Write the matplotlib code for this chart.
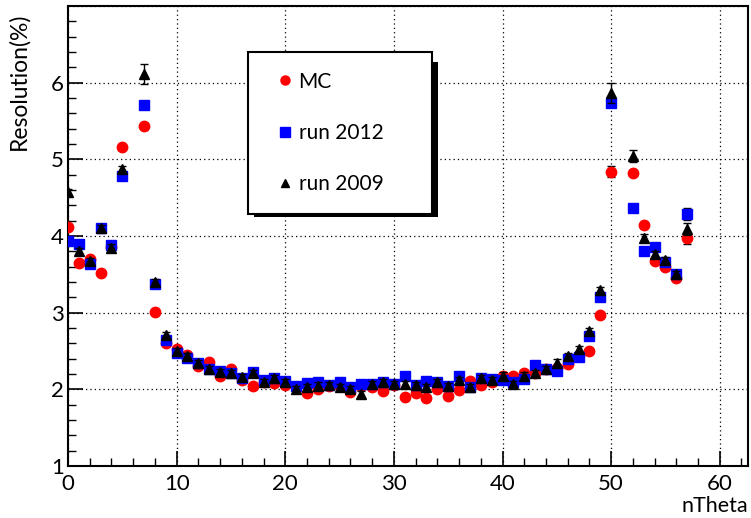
import numpy as np
import matplotlib
matplotlib.use('Agg')
import matplotlib.pyplot as plt
import matplotlib as mpl
from matplotlib.patches import Rectangle
from matplotlib.lines import Line2D
from matplotlib.ticker import MultipleLocator, FuncFormatter

mpl.rcParams['font.family'] = 'Lato'
mpl.rcParams['font.size'] = 16
mpl.rcParams['xtick.direction'] = 'in'
mpl.rcParams['ytick.direction'] = 'in'

# nTheta bins (6 and 51 are missing)
ntheta = list(range(0, 6)) + list(range(7, 51)) + list(range(52, 58))

mc = [4.12, 3.65, 3.70, 3.52, 3.86, 5.16,
      5.44, 3.01, 2.61, 2.53, 2.45, 2.30, 2.36, 2.17, 2.26, 2.12,
      2.04, 2.10, 2.08, 2.06, 2.03, 1.95, 2.01, 2.05, 2.05, 1.97,
      2.04, 2.03, 1.98, 2.06, 1.90, 1.95, 1.89, 2.00, 1.91, 1.99,
      2.11, 2.06, 2.10, 2.17, 2.17, 2.21, 2.21, 2.26, 2.28, 2.33,
      2.45, 2.50, 2.97, 4.84,
      4.82, 4.15, 3.68, 3.59, 3.45, 3.97]
run2012 = [3.93, 3.90, 3.64, 4.10, 3.88, 4.78,
           5.71, 3.38, 2.65, 2.47, 2.41, 2.34, 2.26, 2.24, 2.21, 2.15,
           2.22, 2.12, 2.15, 2.11, 2.05, 2.08, 2.10, 2.06, 2.10, 2.03,
           2.07, 2.07, 2.09, 2.07, 2.18, 2.06, 2.11, 2.09, 2.04, 2.17,
           2.03, 2.15, 2.13, 2.12, 2.09, 2.14, 2.32, 2.27, 2.24, 2.40,
           2.42, 2.69, 3.21, 5.73,
           4.36, 3.81, 3.86, 3.66, 3.50, 4.29]
run2009 = [4.57, 3.80, 3.67, 4.10, 3.85, 4.87,
           6.11, 3.40, 2.71, 2.50, 2.43, 2.34, 2.26, 2.23, 2.21, 2.16,
           2.21, 2.10, 2.15, 2.10, 2.01, 2.03, 2.05, 2.06, 2.03, 2.01,
           1.94, 2.07, 2.09, 2.07, 2.07, 2.06, 2.03, 2.10, 2.04, 2.12,
           2.03, 2.15, 2.12, 2.18, 2.07, 2.18, 2.21, 2.26, 2.35, 2.43,
           2.53, 2.76, 3.29, 5.87,
           5.04, 3.98, 3.76, 3.69, 3.50, 4.09]

# errors (most are hidden behind the markers)
mc_err = [0.03] * 49 + [0.07] + [0.03] * 5 + [0.07]
run2012_err = [0.03] * 55 + [0.08]
run2009_err = [0.04] * 6 + [0.13] + [0.04] * 42 + [0.13] + [0.08] + [0.04] * 4 + [0.08]

fig = plt.figure(figsize=(7.51, 5.18), dpi=100)
ax = fig.add_axes([68/751, 52/518, (748-68)/751, (466-6)/518])

ax.errorbar(ntheta, mc, yerr=mc_err, fmt='o', color='red', ms=7.5,
            elinewidth=1, capsize=3, ecolor='black', zorder=3)
ax.errorbar(ntheta, run2012, yerr=run2012_err, fmt='s', color='blue', ms=7.5,
            elinewidth=1, capsize=3, ecolor='black', zorder=4)
ax.errorbar(ntheta, run2009, yerr=run2009_err, fmt='^', color='black', ms=7.5,
            elinewidth=1, capsize=3, ecolor='black', zorder=5)

ax.set_xlim(0, 62.6)
ax.set_ylim(1, 7)
ax.xaxis.set_major_locator(MultipleLocator(10))
ax.xaxis.set_minor_locator(MultipleLocator(2))
ax.yaxis.set_major_locator(MultipleLocator(1))
ax.yaxis.set_minor_locator(MultipleLocator(0.2))
ax.yaxis.set_major_formatter(FuncFormatter(lambda v, p: '' if v > 6.5 else '%d' % round(v)))
ax.tick_params(which='major', length=11, width=1.2, labelsize=16)
ax.tick_params(which='minor', length=5.5, width=1.0)
ax.tick_params(axis='x', pad=6)
ax.tick_params(axis='y', pad=3)
for s in ax.spines.values():
    s.set_linewidth(1.5)
ax.grid(True, which='major', color='black', linestyle=(0, (1, 2.5)), linewidth=0.9)

ax.set_ylabel('Resolution(%)', loc='top', fontsize=16.5, labelpad=15.5)
ax.yaxis.label.set_y(0.985)
ax.set_xlabel('nTheta', loc='right', fontsize=15.5, labelpad=1)

# legend with a solid black ROOT-like shadow
shadow = Rectangle((254/751, 1 - 217/518), (432-248)/751, (212-57)/518,
                   transform=fig.transFigure, facecolor='black', edgecolor='none',
                   clip_on=False, zorder=6)
ax.add_patch(shadow)
handles = [Line2D([], [], ls='none', marker='o', color='red', ms=6.5),
           Line2D([], [], ls='none', marker='s', color='blue', ms=6.5),
           Line2D([], [], ls='none', marker='^', color='black', ms=6)]
labels = ['MC', 'run 2012', 'run 2009']
leg = ax.legend(handles, labels, loc='upper left',
                bbox_to_anchor=(248/751, 1 - 57/518, (432-248)/751, 0.01),
                bbox_transform=fig.transFigure, mode='expand', fancybox=False,
                framealpha=1, edgecolor='black', fontsize=15,
                labelspacing=1.5, borderpad=0.95, handletextpad=-0.15, handlelength=1.63,
                borderaxespad=0)
leg.get_frame().set_linewidth(1.5)
leg.set_zorder(7)

fig.savefig('out.png', dpi=100)
